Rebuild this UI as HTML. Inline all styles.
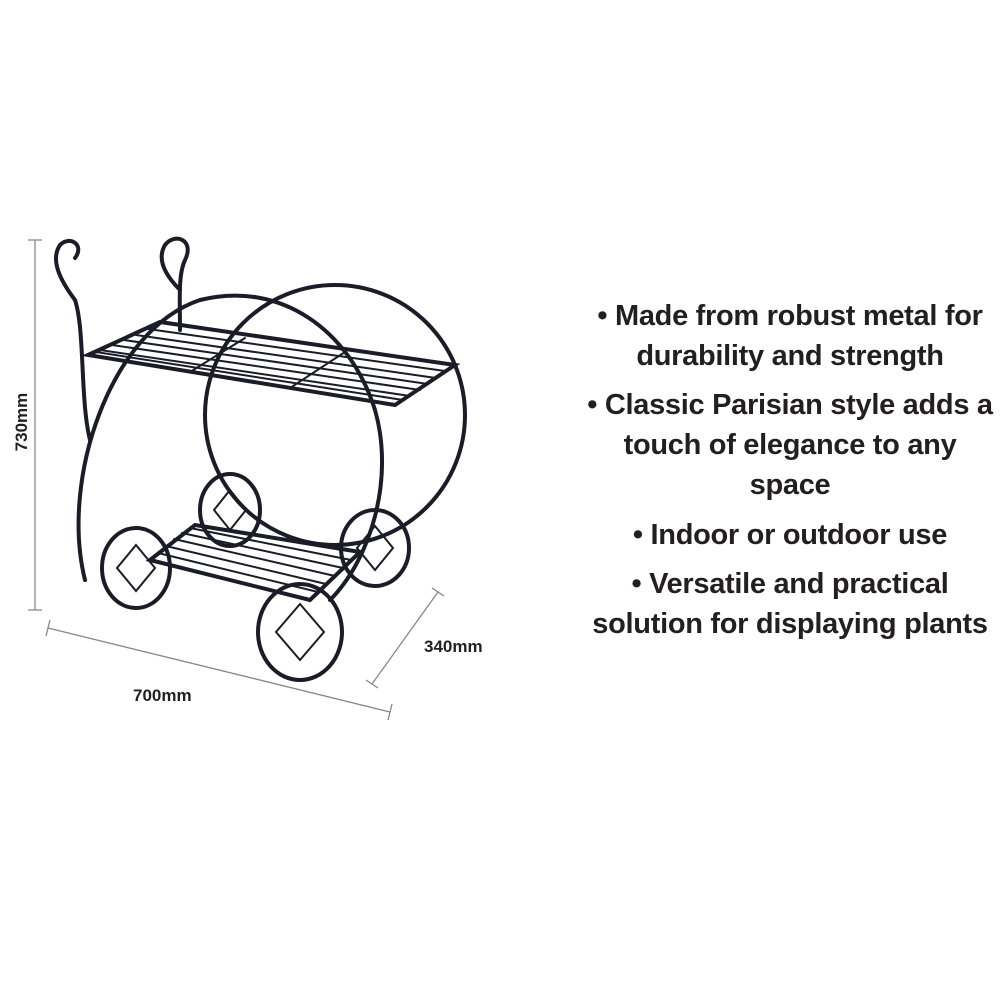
<!DOCTYPE html>
<html><head><meta charset="utf-8">
<style>
html,body{margin:0;padding:0;background:#fff;}
#w{position:relative;width:1000px;height:1000px;overflow:hidden;}
.t{position:absolute;left:540px;width:500px;text-align:center;font-family:"Liberation Sans",sans-serif;font-weight:bold;font-size:29px;letter-spacing:-0.3px;color:#231f20;line-height:40px;}
.d{position:absolute;font-family:"Liberation Sans",sans-serif;font-weight:bold;font-size:17px;color:#231f20;}
</style></head><body><div id="w">
<svg width="1000" height="1000" style="position:absolute;left:0;top:0">
<g stroke="#888" stroke-width="1.3" fill="none">
<line x1="35" y1="240" x2="35" y2="610"/><line x1="28" y1="240" x2="42" y2="240"/><line x1="28" y1="610" x2="42" y2="610"/>
<line x1="48" y1="628" x2="390" y2="712"/><line x1="50" y1="620" x2="46" y2="636"/><line x1="392" y1="704" x2="388" y2="720"/>
<line x1="438" y1="592" x2="372" y2="684"/><line x1="432" y1="588" x2="444" y2="596"/><line x1="366" y1="680" x2="378" y2="688"/>
</g>
<g stroke="#1c1c28" stroke-width="4" fill="none" stroke-linecap="round">
<circle cx="335" cy="415" r="130"/>
<path d="M85 580 C60 480 110 330 200 300 C280 280 350 330 375 410 C395 480 370 560 330 600"/>
<path d="M75 300 C60 280 50 260 60 245 C70 235 85 245 75 258 M75 300 C85 330 80 400 90 440"/>
<path d="M180 290 C170 280 155 262 165 245 C175 232 195 240 185 260 C178 275 180 300 180 330"/>
<path d="M88 355 L160 322 L455 365 L395 405 Z"/>
<g stroke-width="2">
<line x1="100" y1="350" x2="410" y2="396"/><line x1="112" y1="345" x2="420" y2="390"/><line x1="124" y1="340" x2="428" y2="384"/>
<line x1="136" y1="335" x2="436" y2="378"/><line x1="148" y1="329" x2="445" y2="371"/><line x1="96" y1="352" x2="403" y2="400"/>
<line x1="245" y1="338" x2="190" y2="372"/><line x1="345" y1="352" x2="290" y2="388"/>
</g>
<path d="M150 560 L195 525 L360 552 L310 600 Z"/>
<g stroke-width="2">
<line x1="158" y1="553" x2="318" y2="592"/><line x1="166" y1="546" x2="326" y2="584"/><line x1="174" y1="539" x2="335" y2="576"/>
<line x1="182" y1="533" x2="343" y2="568"/><line x1="190" y1="528" x2="351" y2="560"/>
</g>
<ellipse cx="136" cy="568" rx="34" ry="40"/>
<ellipse cx="230" cy="510" rx="30" ry="36"/>
<ellipse cx="375" cy="548" rx="34" ry="38"/>
<ellipse cx="300" cy="632" rx="42" ry="48"/>
<g stroke-width="2">
<path d="M136 545 L155 568 L136 591 L117 568 Z"/><path d="M230 490 L246 510 L230 530 L214 510 Z"/>
<path d="M375 526 L393 548 L375 570 L357 548 Z"/><path d="M300 604 L324 632 L300 660 L276 632 Z"/>
</g>
</g>
</svg>
<div class="d" style="left:-8px;top:412px;transform:rotate(-90deg);transform-origin:center;width:60px;text-align:center">730mm</div>
<div class="d" style="left:133px;top:686px">700mm</div>
<div class="d" style="left:424px;top:637px">340mm</div>
<div class="t" style="top:296px">• Made from robust metal for<br>durability and strength</div>
<div class="t" style="top:385px">• Classic Parisian style adds a<br>touch of elegance to any<br>space</div>
<div class="t" style="top:515px">• Indoor or outdoor use</div>
<div class="t" style="top:564px">• Versatile and practical<br>solution for displaying plants</div>
</div></body></html>
